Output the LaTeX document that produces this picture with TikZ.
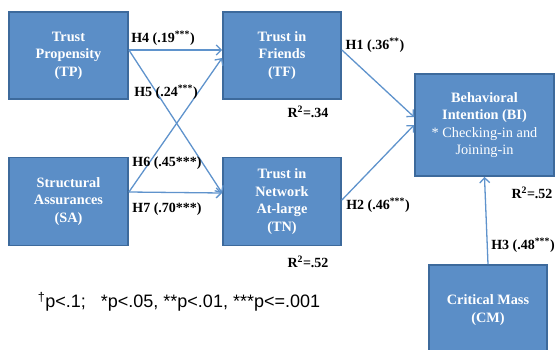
\documentclass[tikz,border=0pt]{standalone}
\usepackage{fontspec}
\setmainfont{Liberation Serif}
\newfontfamily\footfont{Liberation Sans}
\usetikzlibrary{arrows.meta}
\definecolor{boxfill}{HTML}{5B8EC7}
\definecolor{boxline}{HTML}{3D6A9C}
\definecolor{arrowc}{HTML}{5F93CC}
\begin{document}
\begin{tikzpicture}[x=1pt,y=-1pt,
  box/.style={draw=boxline,line width=1.8pt,fill=boxfill,text=white,
    font=\fontsize{14.3}{17.5}\selectfont\bfseries,align=center,inner sep=0pt},
  conn/.style={draw=arrowc,line width=1.3pt,-{Straight Barb[length=5pt,width=10pt,line width=1.3pt]}},
  lab/.style={font=\fontsize{14}{16}\selectfont\bfseries,inner sep=0pt}]
\useasboundingbox (0,0) rectangle (555,349);
\node[box,minimum width=119pt,minimum height=87pt] (TP) at (68.5,55.5) {Trust\\Propensity\\(TP)};
\node[box,minimum width=119pt,minimum height=88pt] (SA) at (68.5,201.5) {Structural\\Assurances\\(SA)};
\node[box,minimum width=118pt,minimum height=87pt] (TF) at (282,55.5) {Trust in\\Friends\\(TF)};
\node[box,minimum width=118pt,minimum height=88pt] (TN) at (282,201.5) {Trust in\\Network\\At-large\\(TN)};
\node[box,minimum width=139pt,minimum height=102pt] (BI) at (484.5,125) {Behavioral\\Intention (BI)\\{\mdseries * Checking-in and}\\{\mdseries Joining-in}};
\node[box,minimum width=118pt,minimum height=90pt] (CM) at (488,310) {Critical Mass\\(CM)};
\draw[conn] ([yshift=5.5pt]TP.east) -- ([yshift=5.5pt]TF.west);
\draw[conn] ([yshift=5.5pt]TP.east) -- ([yshift=8.5pt]TN.west);
\draw[conn] ([yshift=9.5pt]SA.east) -- ([yshift=-2.5pt]TF.west);
\draw[conn] ([yshift=9.5pt]SA.east) -- ([yshift=8.5pt]TN.west);
\draw[conn] ([yshift=5.5pt]TF.east) -- ([yshift=8pt]BI.west);
\draw[conn] ([yshift=1.5pt]TN.east) -- ([yshift=0pt]BI.west);
\draw[conn] (CM.north) -- (BI.south);
\node[lab] (h4) at (163,38) {H4 (.19\textsuperscript{***})};
\node[lab] (h5) at (166,92) {H5 (.24\textsuperscript{***})};
\node[lab] (h6) at (167,163) {H6 (.45***)};
\node[lab] (h7) at (167,209) {H7 (.70***)};
\node[lab] (h1) at (375,45) {H1 (.36\textsuperscript{**})};
\node[lab] (h2) at (378,205) {H2 (.46\textsuperscript{***})};
\node[lab] (h3) at (523,245) {H3 (.48\textsuperscript{***})};
\node[lab] (r1) at (308,112) {R\textsuperscript{2}=.34};
\node[lab] (r2) at (308,262) {R\textsuperscript{2}=.52};
\node[lab] (r3) at (532,193) {R\textsuperscript{2}=.52};
\node[font=\fontsize{18}{20}\selectfont\footfont,inner sep=0pt] (fn) at (179,302) {\textsuperscript{\dag}p<.1;\ \ \ *p<.05, **p<.01, ***p<=.001};
\end{tikzpicture}
\end{document}
